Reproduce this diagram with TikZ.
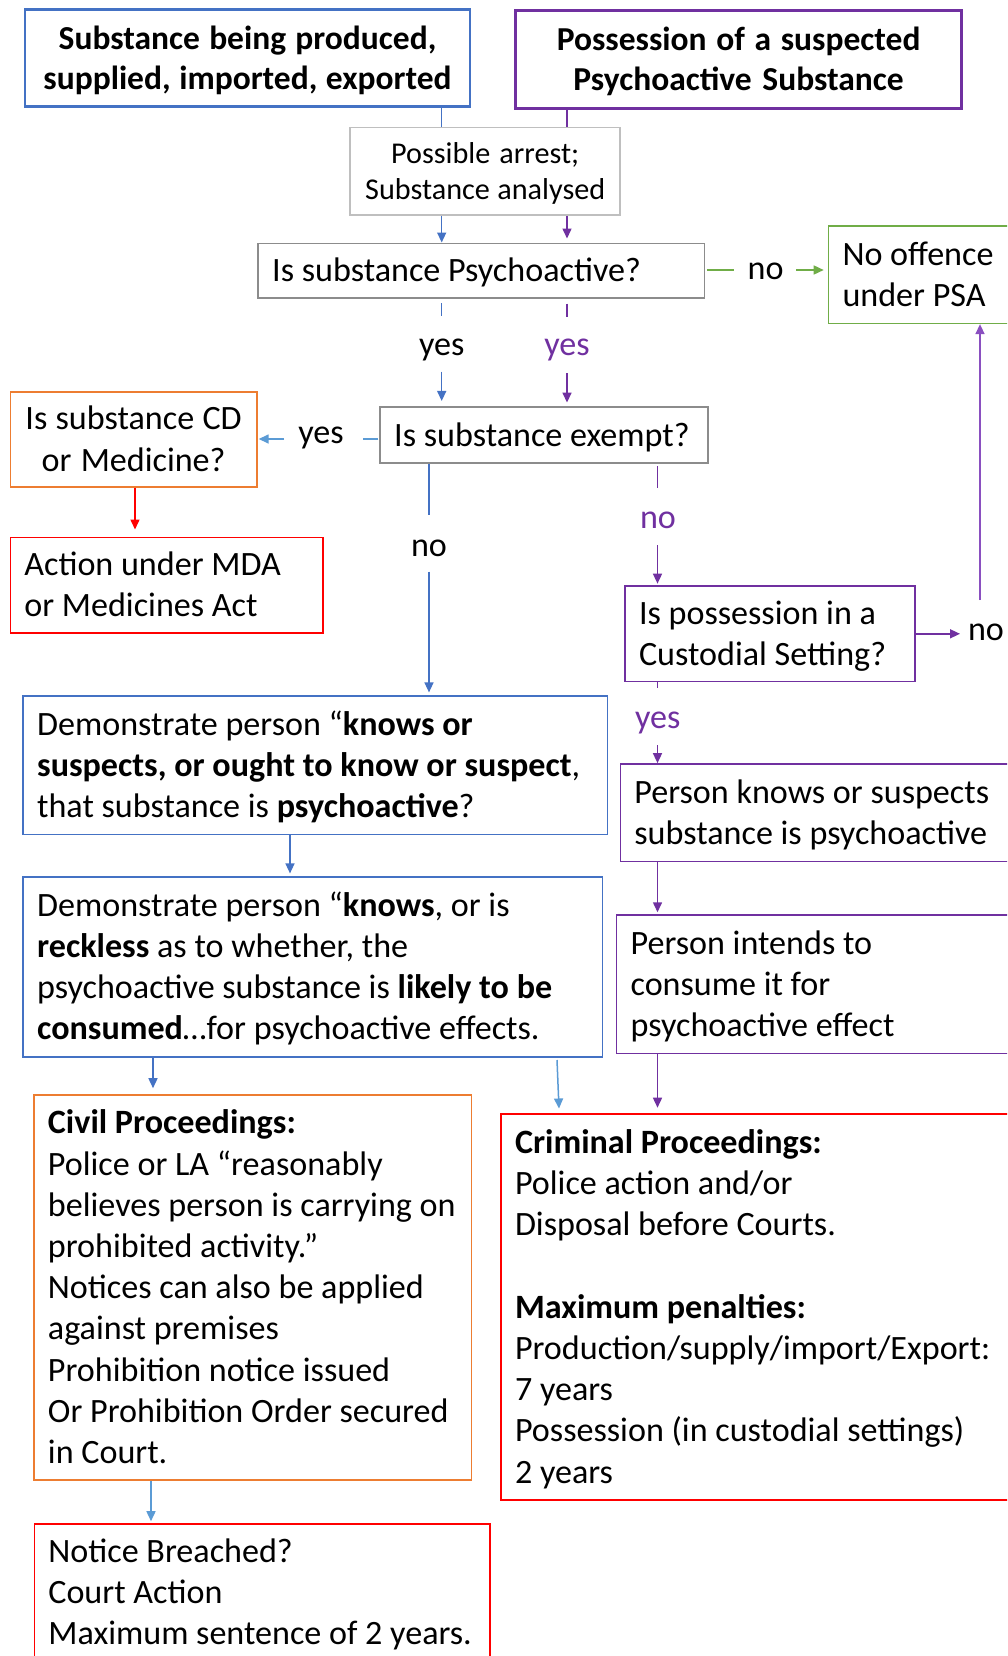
\documentclass[tikz,border=0pt]{standalone}
\usepackage{fontspec}
\setmainfont{Carlito}
\usetikzlibrary{arrows.meta}
\definecolor{cblue}{HTML}{4472C4}
\definecolor{cbluel}{HTML}{5B9BD5}
\definecolor{cpurple}{HTML}{7030A0}
\definecolor{cpurplel}{HTML}{8A4FC0}
\definecolor{cgreen}{HTML}{70AD47}
\definecolor{corange}{HTML}{ED7D31}
\definecolor{cred}{HTML}{FF0000}
\definecolor{cgrayd}{HTML}{8C8C8C}
\definecolor{cgrayl}{HTML}{BFBFBF}
\newcommand{\oneln}[1]{\mbox{#1}}
\newcommand{\topstrut}{\rule{0pt}{\dimexpr0.7\baselineskip+6pt\relax}}
\newcommand{\natsp}{\spaceskip=0pt\xspaceskip=0pt\relax}
\begin{document}
\begin{tikzpicture}[x=1pt,y=-1pt,
  box/.style={draw, line width=1.6pt, inner xsep=14pt, inner ysep=0pt, align=left,
    font=\fontsize{34.1}{41.2}\selectfont,
    execute at begin node={\natsp\topstrut}, execute at end node={\strut}},
  cbox/.style={box, inner xsep=4pt, align=center},
  bigbox/.style={draw, line width=2.8pt, inner xsep=4pt, inner ysep=0pt, align=center,
    font=\bfseries\fontsize{33.5}{40}\selectfont,
    execute at begin node={\natsp\topstrut}, execute at end node={\strut}},
  lbl/.style={inner sep=0pt, font=\fontsize{34.1}{41.2}\selectfont},
  ln/.style={line width=1.5pt},
  ar/.style={line width=1.5pt, -{Triangle[length=10pt,width=9pt]}}
]
\useasboundingbox (0,0) rectangle (1007,1656);
\fill[white] (0,0) rectangle (1007,1656);
\clip (0,0) rectangle (1007,1656);

% ---------- boxes ----------
\node[bigbox, draw=cblue, text width=437pt, minimum height=97pt] (A) at (247.5,58.3)
  {Substance being produced,\\supplied, imported, exported};
\node[bigbox, draw=cpurple, text width=438pt, minimum height=97.6pt] (B) at (738.6,59.5)
  {Possession of a suspected\\Psychoactive Substance};
\node[cbox, draw=cgrayl, text width=262pt, minimum height=87.3pt,
  font=\fontsize{30.2}{36.6}\selectfont] (C) at (485.2,171.3)
  {Possible arrest;\\Substance analysed};
\node[box, draw=cgrayd, text width=418.4pt, minimum height=54.4pt] (D) at (481.4,270.5)
  {\oneln{Is substance Psychoactive?}};
\node[box, draw=cgreen, text width=163.5pt, minimum height=97.3pt] (E) at (924.25,274.7)
  {\oneln{No offence}\\\oneln{under PSA}};
\node[box, draw=cgrayd, text width=299.6pt, minimum height=55.7pt] (F) at (544,434.9)
  {\oneln{Is substance exempt?}};
\node[cbox, draw=corange, text width=238.6pt, minimum height=95pt] (G) at (133.6,439.2)
  {Is substance CD\\or Medicine?};
\node[box, draw=cred, text width=284.7pt, minimum height=95.4pt] (H) at (166.7,585)
  {\oneln{Action under MDA}\\\oneln{or Medicines Act}};
\node[box, draw=cpurple, text width=262.2pt, minimum height=95.7pt] (I) at (770.1,633.8)
  {\oneln{Is possession in a}\\\oneln{Custodial Setting?}};
\node[box, draw=cblue, text width=556.5pt, minimum height=138.6pt] (J) at (315.4,765)
  {\oneln{Demonstrate person “\textbf{knows or}}\\
   \oneln{\textbf{suspects, or ought to know or suspect},}\\
   \oneln{that substance is \textbf{psychoactive}?}};
\node[box, draw=cpurple, text width=371.6pt, minimum height=97.7pt] (K) at (820.2,812.8)
  {\oneln{Person knows or suspects}\\\oneln{substance is psychoactive}};
\node[box, draw=cblue, text width=551.3pt, minimum height=180pt] (L) at (312.8,966.7)
  {\oneln{Demonstrate person “\textbf{knows}, or is}\\
   \oneln{\textbf{reckless} as to whether, the}\\
   \oneln{psychoactive substance is \textbf{likely to be}}\\
   \oneln{\textbf{consumed}…for psychoactive effects.}};
\node[box, draw=cpurple, text width=375.4pt, minimum height=138.3pt] (M) at (818.3,984.2)
  {\oneln{Person intends to}\\\oneln{consume it for}\\\oneln{psychoactive effect}};
\node[box, draw=corange, text width=409.7pt, minimum height=385pt] (N) at (252.8,1287.5)
  {\oneln{\textbf{Civil Proceedings:}}\\
   \oneln{Police or LA “reasonably}\\
   \oneln{believes person is carrying on}\\
   \oneln{prohibited activity.”}\\
   \oneln{Notices can also be applied}\\
   \oneln{against premises}\\
   \oneln{Prohibition notice issued}\\
   \oneln{Or Prohibition Order secured}\\
   \oneln{in Court.}};
\node[box, draw=cred, text width=491pt, minimum height=386pt] (O) at (760.5,1307)
  {\oneln{\textbf{Criminal Proceedings:}}\\
   \oneln{Police action and/or}\\
   \oneln{Disposal before Courts.}\\
   ~\\
   \oneln{\textbf{Maximum penalties:}}\\
   \oneln{Production/supply/import/Export:}\\
   \oneln{7 years}\\
   \oneln{Possession (in custodial settings)}\\
   \oneln{2 years}};
\node[box, draw=cred, text width=427.7pt, minimum height=136pt] (P) at (262.2,1592)
  {\oneln{Notice Breached?}\\
   \oneln{Court Action}\\
   \oneln{Maximum sentence of 2 years.}};

% ---------- labels ----------
\node[lbl] (yesB) at (441.7,349.5) {yes};
\node[lbl, text=cpurple] (yesP) at (567,349.5) {yes};
\node[lbl] (noG) at (765.6,271) {no};
\node[lbl] (yesF) at (321,438) {yes};
\node[lbl] (noF) at (429,548.5) {no};
\node[lbl, text=cpurple] (noFP) at (658,520) {no};
\node[lbl] (noI) at (986,632) {no};
\node[lbl, text=cpurple] (yesI) at (657.8,722.8) {yes};

% ---------- coordinates ----------
\coordinate (xb) at (441.7,0);
\coordinate (xp) at (567,0);
\coordinate (xn) at (429,0);
\coordinate (xq) at (657.5,0);
\coordinate (xg) at (135,0);
\coordinate (xj) at (290,0);
\coordinate (xl) at (153,0);
\coordinate (xk) at (151,0);
\coordinate (b1) at (441.7,315.5);
\coordinate (b2) at (441.7,371.7);
\coordinate (p1) at (567,316.7);
\coordinate (p2) at (567,373.3);
\coordinate (g1) at (734,270);
\coordinate (g2) at (796,270);
\coordinate (f1) at (363,439);
\coordinate (f2) at (284,439);
\coordinate (n1) at (429,515);
\coordinate (n2) at (429,571.7);
\coordinate (q1) at (657.5,488.3);
\coordinate (q2) at (657.5,545);
\coordinate (i1) at (960,633.8);
\coordinate (r1) at (980,600);
\coordinate (y1) at (657.5,688);
\coordinate (y2) at (657.5,745);
\coordinate (o1) at (557,1060);
\coordinate (o2) at (559,1108.5);

% ---------- connectors ----------
\draw[ln, cblue] (A.south -| xb) -- (C.north -| xb);
\draw[ln, cpurple] (B.south -| xp) -- (C.north -| xp);
\draw[ar, cblue] (C.south -| xb) -- (D.north -| xb);
\draw[ar, cpurple, shorten >=4pt] (C.south -| xp) -- (D.north -| xp);

\draw[ln, cblue, shorten <=4.5pt] (D.south -| b1) -- (b1);
\draw[ar, cblue, shorten >=5.3pt] (b2) -- (F.north -| b2);
\draw[ln, cpurple, shorten <=5pt] (D.south -| p1) -- (p1);
\draw[ar, cpurple, shorten >=3.7pt] (p2) -- (F.north -| p2);

\draw[ln, cgreen, shorten <=2pt] (D.east |- g1) -- (g1);
\draw[ar, cgreen, shorten >=4pt] (g2) -- (E.west |- g2);

\draw[ln, cbluel, shorten <=1pt] (F.west |- f1) -- (f1);
\draw[ar, cbluel, shorten >=1pt] (f2) -- (G.east |- f2);

\draw[ar, cred, shorten >=7pt] (G.south -| xg) -- (H.north -| xg);

\draw[ln, cblue] (F.south -| xn) -- (n1);
\draw[ar, cblue, shorten >=2.5pt] (n2) -- (J.north -| xn);
\draw[ln, cpurple, shorten <=2.5pt] (F.south -| xq) -- (q1);
\draw[ar, cpurple, shorten >=1.5pt] (q2) -- (I.north -| xq);

\draw[ar, cpurple] (I.east |- i1) -- (i1);
\draw[ar, cpurplel] (r1) -- (E.south -| r1);

\draw[ln, cpurple] (I.south -| y1) -- (y1);
\draw[ar, cpurple] (y2) -- (K.north -| y2);

\draw[ar, cblue, shorten >=2.5pt] (J.south -| xj) -- (L.north -| xj);
\draw[ar, cpurple, shorten >=2pt] (K.south -| xq) -- (M.north -| xq);
\draw[ar, cblue, shorten >=6pt] (L.south -| xl) -- (N.north -| xl);
\draw[ar, cbluel] (o1) -- (o2);
\draw[ar, cpurple, shorten >=5.5pt] (M.south -| xq) -- (O.north -| xq);
\draw[ar, cbluel, shorten >=2pt] (N.south -| xk) -- (P.north -| xk);
\end{tikzpicture}
\end{document}
